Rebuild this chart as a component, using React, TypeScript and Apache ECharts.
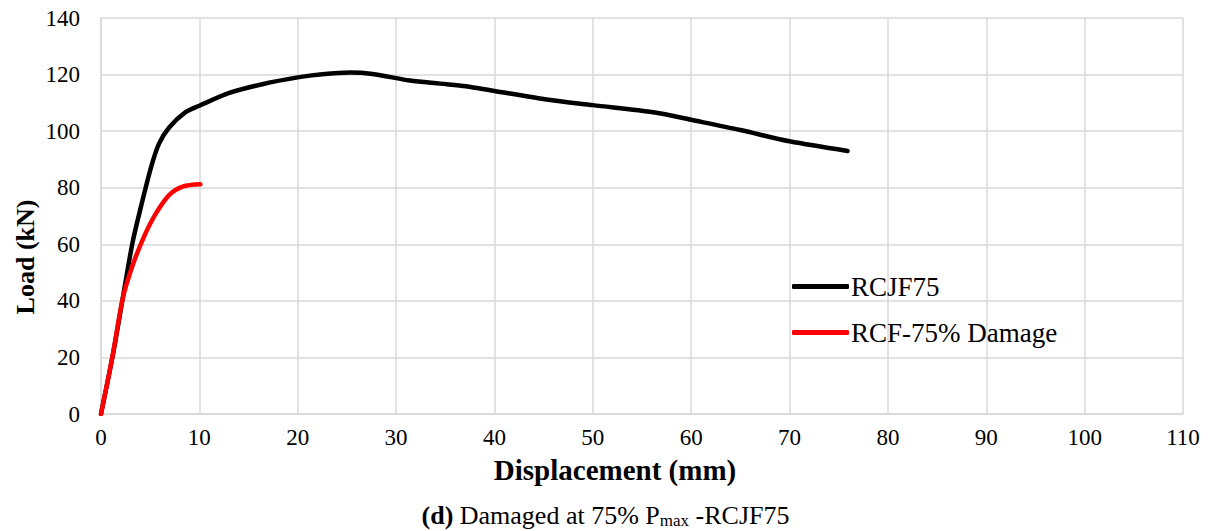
import React, { useEffect, useRef } from "react";
import * as echarts from "echarts";

const xTicks = [0, 10, 20, 30, 40, 50, 60, 70, 80, 90, 100, 110];
const yTicks = [0, 20, 40, 60, 80, 100, 120, 140];

const rcjf75: [number, number][] = [
  [0, 0], [1.2, 20.8], [2.2, 40.7], [3.2, 60.5], [4.07, 73.4], [5.1, 87.4],
  [5.9, 95.6], [6.95, 101.4], [8.6, 106.7], [10, 109], [13.05, 113.5],
  [16.4, 116.6], [20, 119], [22.5, 120.1], [25.3, 120.7], [27.6, 120.2],
  [31.4, 117.9], [34.5, 116.8], [37.1, 115.9], [40, 114.2], [45.3, 111.2],
  [50, 109.2], [56.3, 106.6], [60, 104], [65, 100.4], [70, 96.4], [75.9, 93],
];

const rcf75: [number, number][] = [
  [0, 0], [1.19, 20.8], [2.2, 40.7], [3.2, 52.4], [4.4, 62.9], [5.6, 71],
  [6.95, 77.5], [8.3, 80.4], [10.1, 81.2],
];

const font = "'Liberation Serif', 'Times New Roman', serif";

export default function App() {
  const ref = useRef<HTMLDivElement>(null);
  useEffect(() => {
    if (!ref.current) return;
    const chart = echarts.init(ref.current, null, { renderer: "svg" });
    chart.setOption({
      animation: false,
      backgroundColor: "#ffffff",
      grid: { left: 101, right: 28, top: 18, bottom: 117, containLabel: false },
      legend: {
        orient: "vertical",
        left: 787,
        top: 268,
        itemWidth: 57,
        itemHeight: 5,
        itemGap: 19,
        icon: "roundRect",
        textStyle: { fontFamily: font, fontSize: 27, color: "#000", padding: [0, 0, 0, -3] },
        data: ["RCJF75", "RCF-75% Damage"],
      },
      xAxis: {
        type: "value",
        min: 0,
        max: 110,
        interval: 10,
        axisLine: { show: true, lineStyle: { color: "#d9d9d9", width: 1.5 } },
        axisTick: { show: false },
        axisLabel: { fontFamily: font, fontSize: 23, color: "#000", margin: 12 },
        splitLine: { show: true, lineStyle: { color: "#d9d9d9", width: 1.5 } },
      },
      yAxis: {
        type: "value",
        min: 0,
        max: 140,
        interval: 20,
        axisLine: { show: true, lineStyle: { color: "#d9d9d9", width: 1.5 } },
        axisTick: { show: false },
        axisLabel: { fontFamily: font, fontSize: 23, color: "#000", margin: 21 },
        splitLine: { show: true, lineStyle: { color: "#d9d9d9", width: 1.5 } },
      },
      series: [
        {
          name: "RCJF75",
          type: "line",
          data: rcjf75,
          smooth: 0.3,
          showSymbol: false,
          symbol: "none",
          lineStyle: { color: "#000000", width: 4.5, cap: "round" },
          itemStyle: { color: "#000000" },
        },
        {
          name: "RCF-75% Damage",
          type: "line",
          data: rcf75,
          smooth: 0.3,
          showSymbol: false,
          symbol: "none",
          lineStyle: { color: "#ff0000", width: 4.5, cap: "round" },
          itemStyle: { color: "#ff0000" },
        },
      ],
      graphic: [
        {
          type: "text",
          x: 615,
          y: 470,
          style: {
            text: "Displacement (mm)",
            fontFamily: font,
            fontSize: 29,
            fontWeight: "bold",
            fill: "#000",
            align: "center",
            verticalAlign: "middle",
          },
        },
        {
          type: "text",
          x: 25,
          y: 257,
          rotation: Math.PI / 2,
          style: {
            text: "Load (kN)",
            fontFamily: font,
            fontSize: 26,
            fontWeight: "bold",
            fill: "#000",
            align: "center",
            verticalAlign: "middle",
          },
        },
        {
          type: "text",
          left: "center",
          top: 502,
          style: {
            text: "{b|(d)}{n| Damaged at 75% P}{s|max}{n| -RCJF75}",
            rich: {
              b: { fontFamily: font, fontSize: 26, fontWeight: "bold", fill: "#000" },
              n: { fontFamily: font, fontSize: 26, fill: "#000" },
              s: { fontFamily: font, fontSize: 17, fill: "#000", verticalAlign: "bottom", padding: [10, 0, 0, 0] },
            },
          },
        },
      ],
    });
    return () => chart.dispose();
  }, []);
  return (
    <div
      ref={ref}
      style={{ position: "fixed", left: 0, top: 0, width: 1211, height: 531 }}
    />
  );
}
